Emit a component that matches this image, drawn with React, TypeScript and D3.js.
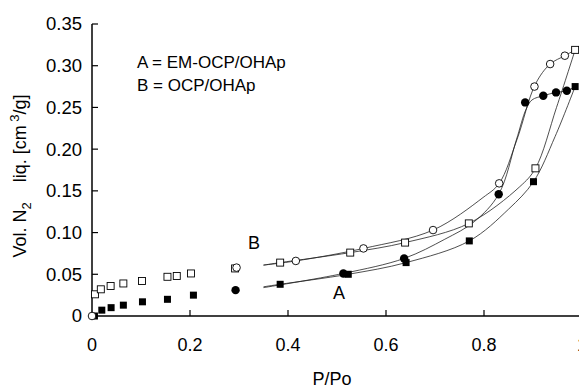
import React from 'react';
import * as d3 from 'd3';

// measured points [P/Po, volume]
const adsB: [number, number][] = [
  [0.006, 0.026], [0.018, 0.032], [0.038, 0.036], [0.064, 0.039], [0.102, 0.042],
  [0.154, 0.047], [0.173, 0.048], [0.202, 0.051], [0.292, 0.057], [0.384, 0.064],
  [0.527, 0.076], [0.639, 0.088], [0.769, 0.111], [0.905, 0.177], [0.986, 0.319],
];
const desB: [number, number][] = [
  [0.0, 0.0], [0.295, 0.058], [0.416, 0.066], [0.554, 0.081], [0.696, 0.103],
  [0.831, 0.159], [0.903, 0.275], [0.935, 0.302], [0.965, 0.312],
];
const adsA: [number, number][] = [
  [0.005, 0.0], [0.02, 0.007], [0.039, 0.010], [0.064, 0.013], [0.103, 0.017],
  [0.154, 0.020], [0.207, 0.025], [0.384, 0.038], [0.523, 0.050], [0.641, 0.064],
  [0.770, 0.090], [0.901, 0.161], [0.986, 0.275],
];
const desA: [number, number][] = [
  [0.293, 0.031], [0.513, 0.051], [0.637, 0.069], [0.830, 0.146], [0.884, 0.256],
  [0.921, 0.264], [0.947, 0.268], [0.969, 0.270],
];

// fitted curves
const fitAdsB: [number, number][] = [
  [0.35, 0.061], [0.384, 0.064], [0.527, 0.076], [0.639, 0.088], [0.769, 0.111],
  [0.873, 0.155], [0.905, 0.177], [0.948, 0.25], [0.986, 0.319],
];
const fitDesB: [number, number][] = [
  [0.986, 0.319], [0.965, 0.312], [0.935, 0.302], [0.905, 0.278], [0.867, 0.211],
  [0.831, 0.159], [0.798, 0.142], [0.696, 0.103], [0.554, 0.081], [0.416, 0.066], [0.35, 0.061],
];
const fitAdsA: [number, number][] = [
  [0.35, 0.035], [0.384, 0.038], [0.523, 0.050], [0.641, 0.064], [0.770, 0.090],
  [0.85, 0.128], [0.901, 0.161], [0.945, 0.215], [0.986, 0.275],
];
const fitDesA: [number, number][] = [
  [0.986, 0.275], [0.969, 0.270], [0.947, 0.268], [0.921, 0.264], [0.898, 0.259],
  [0.886, 0.248], [0.866, 0.211], [0.830, 0.146], [0.78, 0.113], [0.72, 0.092],
  [0.637, 0.069], [0.513, 0.051], [0.35, 0.034],
];

const xTicks = [0, 0.2, 0.4, 0.6, 0.8, 1];
const yTicks = [0, 0.05, 0.1, 0.15, 0.2, 0.25, 0.3, 0.35];
const legendLines = ['A = EM-OCP/OHAp', 'B = OCP/OHAp'];

const W = 579;
const H = 388;
const font = 'Arial, "Liberation Sans", sans-serif';

const App: React.FC = () => {
  const x = d3.scaleLinear().domain([0, 1]).range([92, 582]);
  const y = d3.scaleLinear().domain([0, 0.35]).range([316, 24]);
  const line = d3.line<[number, number]>()
    .x(d => x(d[0]))
    .y(d => y(d[1]))
    .curve(d3.curveCatmullRom.alpha(0.5));

  const sq = 7;
  const r = 3.8;

  return (
    <div style={{ position: 'absolute', left: 0, top: 0 }}>
      <svg width={W} height={H} style={{ display: 'block', background: '#fff' }} fontFamily={font}>
        {/* axes */}
        <line x1={x(0)} x2={x(0)} y1={y(0.35)} y2={y(0)} stroke="#000" strokeWidth={1.5} />
        <line x1={x(0)} x2={W} y1={y(0)} y2={y(0)} stroke="#000" strokeWidth={1.5} />
        {yTicks.map(t => (
          <g key={'y' + t}>
            <line x1={x(0)} x2={x(0) + 6} y1={y(t)} y2={y(t)} stroke="#000" strokeWidth={1.2} />
            <text x={82} y={y(t)} dy="0.35em" textAnchor="end" fontSize={18.5}>
              {t === 0 ? '0' : d3.format('.2f')(t)}
            </text>
          </g>
        ))}
        {xTicks.map(t => (
          <g key={'x' + t}>
            {t > 0 && <line x1={x(t)} x2={x(t)} y1={y(0)} y2={y(0) - 6} stroke="#000" strokeWidth={1.2} />}
            <text x={x(t)} y={345} dy="0.35em" textAnchor="middle" fontSize={18}>
              {t === 0 || t === 1 ? String(t) : d3.format('.1f')(t)}
            </text>
          </g>
        ))}
        <text x={x(0.5) - 5} y={379} dy="0.35em" textAnchor="middle" fontSize={18}>P/Po</text>
        <text transform="translate(26,176) rotate(-90)" textAnchor="middle" fontSize={18}>
          Vol. N<tspan dy={5} fontSize={13}>2</tspan>
          <tspan dy={-5}>{'\u00a0\u00a0\u00a0\u00a0liq. [cm\u2009'}</tspan>
          <tspan dy={-7} fontSize={13}>3</tspan>
          <tspan dy={7}>/g]</tspan>
        </text>

        {/* legend */}
        {legendLines.map((s, i) => (
          <text key={s} x={137} y={62 + i * 23} dy="0.35em" fontSize={17}>{s}</text>
        ))}
        <text x={254} y={243} dy="0.35em" textAnchor="middle" fontSize={18}>B</text>
        <text x={339} y={293} dy="0.35em" textAnchor="middle" fontSize={18}>A</text>

        {/* fitted curves */}
        {[fitAdsB, fitDesB, fitAdsA, fitDesA].map((c, i) => (
          <path key={'c' + i} d={line(c) || ''} fill="none" stroke="#222" strokeWidth={0.8} />
        ))}

        {/* markers */}
        {adsA.map((d, i) => (
          <rect key={'aa' + i} x={x(d[0]) - sq / 2} y={y(d[1]) - sq / 2} width={sq} height={sq} fill="#000" />
        ))}
        {desA.map((d, i) => (
          <circle key={'da' + i} cx={x(d[0])} cy={y(d[1])} r={r + 0.4} fill="#000" />
        ))}
        {adsB.map((d, i) => (
          <rect key={'ab' + i} x={x(d[0]) - sq / 2} y={y(d[1]) - sq / 2} width={sq} height={sq}
            fill="#fff" stroke="#000" strokeWidth={0.9} />
        ))}
        {desB.map((d, i) => (
          <circle key={'db' + i} cx={x(d[0])} cy={y(d[1])} r={r} fill="#fff" stroke="#000" strokeWidth={0.9} />
        ))}
      </svg>
    </div>
  );
};

export default App;
